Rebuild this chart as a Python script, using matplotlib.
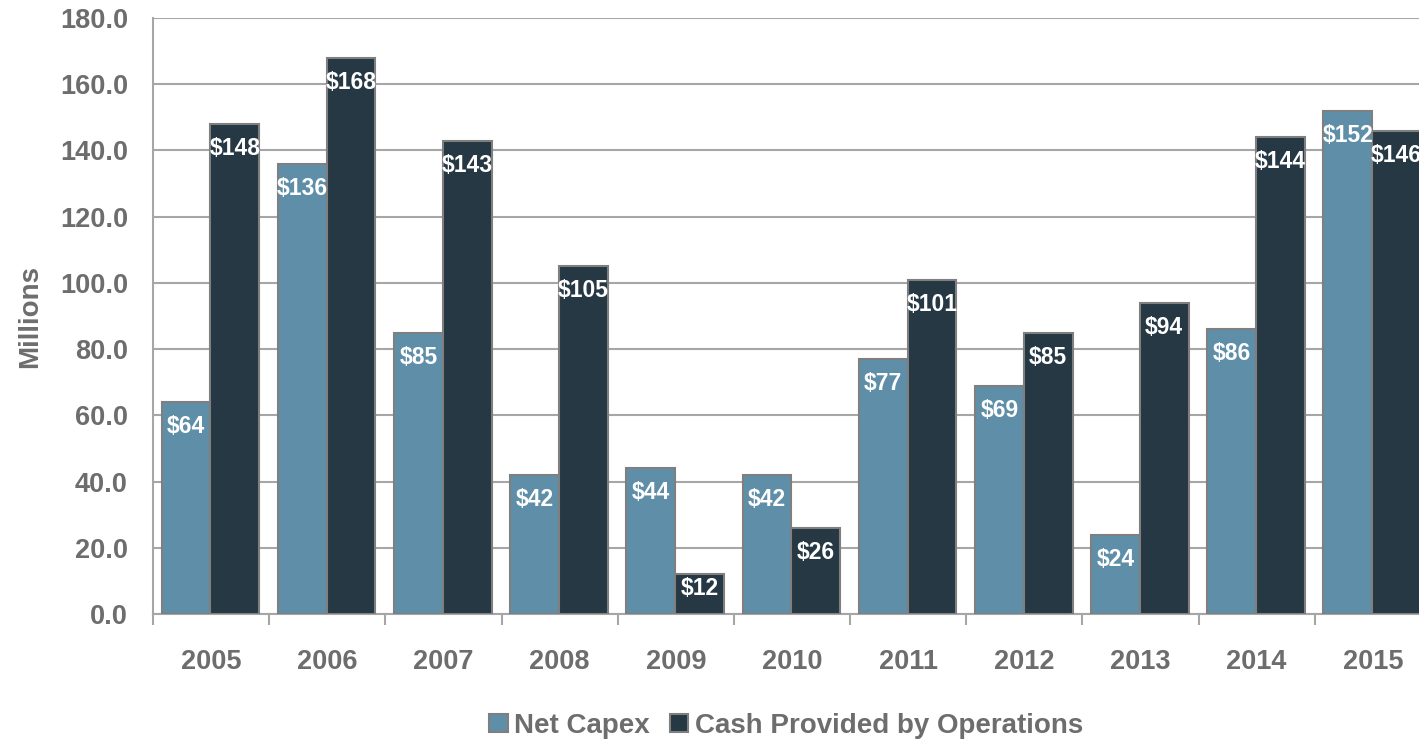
import numpy as np
import matplotlib
matplotlib.use('Agg')
import matplotlib.pyplot as plt

plt.rcParams['font.family'] = ['Liberation Sans', 'DejaVu Sans']

years = ['2005', '2006', '2007', '2008', '2009', '2010', '2011', '2012', '2013', '2014', '2015']
net_capex = [64, 136, 85, 42, 44, 42, 77, 69, 24, 86, 152]
cash_ops = [148, 168, 143, 105, 12, 26, 101, 85, 94, 144, 146]

light = '#5f8fa8'
dark = '#253843'
grey_txt = '#6d6d6d'
edge = '#7f7f7f'

fig = plt.figure(figsize=(14.19, 7.42), dpi=100)
# axes run past the right edge, as in the original
ax = fig.add_axes([0.1078, 0.1725, 0.9006, 0.8032])

x = np.arange(len(years))
w = 0.42
b1 = ax.bar(x - 0.215, net_capex, width=w, color=light, edgecolor=edge, linewidth=1.5,
            label='Net Capex', zorder=3)
b2 = ax.bar(x + 0.205, cash_ops, width=w, color=dark, edgecolor=edge, linewidth=1.5,
            label='Cash Provided by Operations', zorder=3)

# value labels, inside the top of each bar
for bars, vals in ((b1, net_capex), (b2, cash_ops)):
    for rect, v in zip(bars, vals):
        ypos = max(v - 7.4, 7.8)
        ax.text(rect.get_x() + rect.get_width() / 2, ypos, '$' + str(v),
                ha='center', va='center', color='white', fontsize=16.5,
                fontweight='bold', zorder=4)

ax.set_ylim(0, 180)
ax.set_xlim(-0.5, len(years) - 0.5)
ax.set_yticks(np.arange(0, 181, 20))
ax.set_yticklabels(['%.1f' % t for t in np.arange(0, 181, 20)])
ax.yaxis.grid(True, color='#a6a6a6', linewidth=1.5, zorder=0)
ax.set_axisbelow(True)

ax.set_xticks(x)
ax.set_xticklabels(years)
ax.set_xticks(np.arange(-0.5, len(years)), minor=True)
ax.tick_params(axis='x', which='major', length=0, pad=25, labelsize=19.5, labelcolor=grey_txt)
ax.tick_params(axis='x', which='minor', length=8, width=1.5, color='#a6a6a6')
ax.tick_params(axis='y', length=0, pad=18, labelsize=19.5, labelcolor=grey_txt)
for lab in ax.get_xticklabels() + ax.get_yticklabels():
    lab.set_fontweight('bold')

for s in ['top', 'right']:
    ax.spines[s].set_visible(False)
for s in ['left', 'bottom']:
    ax.spines[s].set_color('#a6a6a6')
    ax.spines[s].set_linewidth(1.5)

ax.set_ylabel('Millions', fontsize=20, fontweight='bold', color=grey_txt, labelpad=12)

fig.legend(handles=[b1, b2], loc='center', bbox_to_anchor=(0.554, 0.022), ncol=2,
           frameon=False, prop={'size': 20, 'weight': 'bold'}, labelcolor=grey_txt,
           handlelength=0.65, handleheight=0.65, handletextpad=0.25, columnspacing=0.7)

fig.savefig('out.png', dpi=100)
